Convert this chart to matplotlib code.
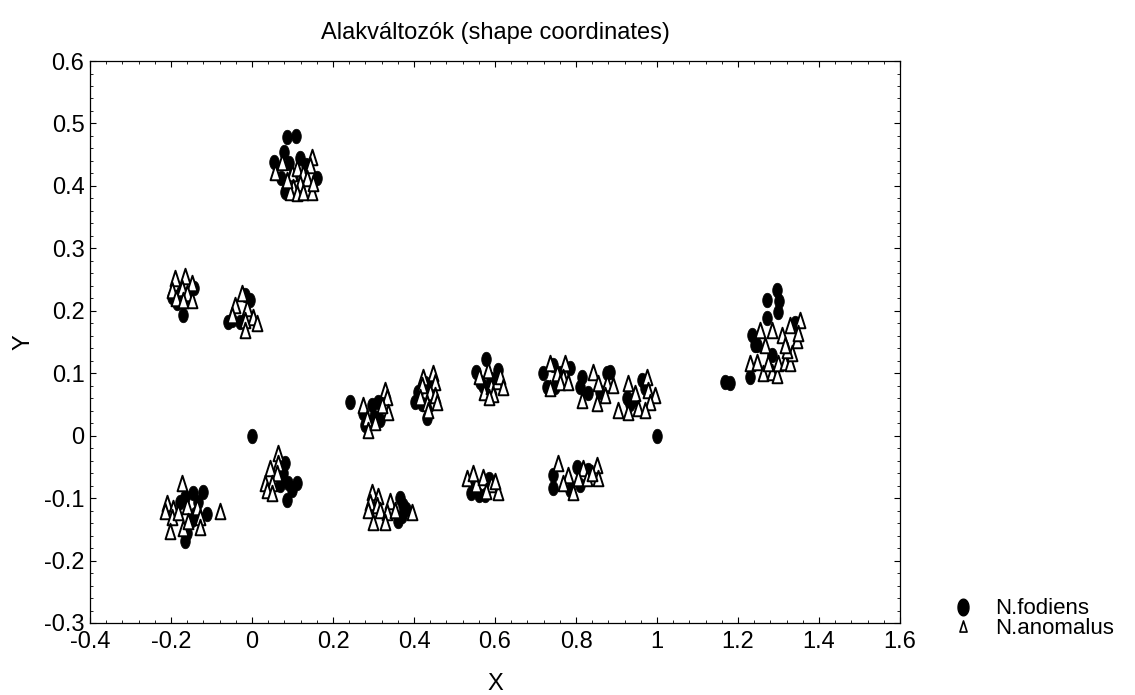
import matplotlib
matplotlib.use("Agg")
import matplotlib.pyplot as plt
from matplotlib.path import Path
from matplotlib.lines import Line2D
from matplotlib.ticker import MultipleLocator, FuncFormatter
import numpy as np

plt.rcParams['font.family'] = ['Liberation Sans', 'DejaVu Sans']
plt.rcParams['axes.unicode_minus'] = False

title = "Alakváltozók (shape coordinates)"
x_label = "X"
y_label = "Y"
series_names = ["N.fodiens", "N.anomalus"]

fodiens_x = [0.054, 0.079, 0.086, 0.109, 0.119, 0.091, 0.072, 0.081, 0.160, 0.101, 0.133,
             -0.198, -0.185, -0.170, -0.143, -0.175, -0.160,
             -0.059, -0.050, -0.017, -0.005, -0.030,
             -0.165, -0.146, -0.121, -0.178, -0.111, -0.148, -0.160, -0.165, -0.133, -0.140,
             0.081, 0.077, 0.069, 0.089, 0.111, 0.086, 0.099,
             0.365, 0.373, 0.370, 0.360, 0.380,
             0.242, 0.274, 0.296, 0.311, 0.316, 0.300, 0.279,
             0.402, 0.410, 0.427, 0.432, 0.420, 0.440,
             0.553, 0.578, 0.563, 0.590, 0.607, 0.570,
             0.546, 0.560, 0.540, 0.585, 0.575,
             0.719, 0.743, 0.785, 0.728, 0.748, 0.760,
             0.744, 0.744, 0.785, 0.802, 0.830, 0.810,
             0.815, 0.810, 0.830, 0.877, 0.884, 0.860,
             0.963, 0.970, 0.926, 0.941, 0.933,
             1.168, 1.180,
             1.272, 1.296, 1.299, 1.272, 1.235, 1.247, 1.242, 1.230, 1.284, 1.341, 1.300]
fodiens_y = [0.438, 0.454, 0.478, 0.480, 0.445, 0.437, 0.413, 0.390, 0.413, 0.417, 0.433,
             0.222, 0.212, 0.193, 0.237, 0.230, 0.220,
             0.182, 0.186, 0.225, 0.217, 0.182,
             -0.099, -0.092, -0.091, -0.107, -0.125, -0.135, -0.156, -0.168, -0.107, -0.125,
             -0.044, -0.060, -0.079, -0.076, -0.075, -0.103, -0.087,
             -0.100, -0.111, -0.128, -0.136, -0.118,
             0.054, 0.036, 0.049, 0.054, 0.025, 0.030, 0.017,
             0.054, 0.070, 0.084, 0.029, 0.050, 0.078,
             0.102, 0.122, 0.086, 0.090, 0.105, 0.080,
             -0.075, -0.095, -0.092, -0.070, -0.095,
             0.100, 0.113, 0.108, 0.078, 0.078, 0.100,
             -0.063, -0.084, -0.087, -0.050, -0.055, -0.079,
             0.094, 0.078, 0.068, 0.100, 0.102, 0.070,
             0.089, 0.076, 0.060, 0.057, 0.050,
             0.086, 0.084,
             0.217, 0.233, 0.198, 0.188, 0.161, 0.145, 0.145, 0.094, 0.129, 0.180, 0.215]

anomalus_x = [0.057, 0.074, 0.099, 0.111, 0.126, 0.148, 0.143, 0.136, 0.119, 0.101, 0.094, 0.111, 0.126, 0.148, 0.151, 0.086,
              -0.190, -0.165, -0.148, -0.198, -0.173, -0.160, -0.188, -0.148, -0.170,
              -0.025, -0.042, -0.012, 0.002, -0.049, -0.017, -0.017, 0.012,
              -0.173, -0.210, -0.195, -0.215, -0.198, -0.183, -0.160, -0.136, -0.128, -0.202, -0.170, -0.128, -0.079, -0.158,
              0.064, 0.064, 0.044, 0.062, 0.032, 0.049, 0.037, 0.049,
              0.296, 0.311, 0.291, 0.308, 0.341, 0.286, 0.316, 0.333, 0.353, 0.299, 0.328, 0.395,
              0.274, 0.328, 0.333, 0.336, 0.321, 0.284, 0.286, 0.304,
              0.422, 0.447, 0.452, 0.420, 0.440, 0.452, 0.415, 0.432, 0.457, 0.435,
              0.560, 0.583, 0.572, 0.590, 0.605, 0.613, 0.596, 0.620, 0.585,
              0.530, 0.553, 0.570, 0.590, 0.607, 0.578, 0.545, 0.600,
              0.736, 0.773, 0.753, 0.768, 0.760, 0.780, 0.736,
              0.756, 0.817, 0.852, 0.780, 0.805, 0.827, 0.854, 0.768, 0.793, 0.840,
              0.842, 0.854, 0.877, 0.891, 0.872, 0.815, 0.852,
              0.928, 0.975, 0.946, 0.978, 0.995, 0.983, 0.904, 0.928, 0.953, 0.970,
              1.230, 1.247, 1.262, 1.284, 1.296, 1.274, 1.299, 1.316, 1.328, 1.333, 1.321, 1.267, 1.346,
              1.254, 1.284, 1.309, 1.328, 1.353, 1.316, 1.348]
anomalus_y = [0.422, 0.438, 0.421, 0.429, 0.421, 0.446, 0.433, 0.413, 0.405, 0.398, 0.390, 0.388, 0.390, 0.390, 0.404, 0.409,
              0.252, 0.255, 0.244, 0.233, 0.236, 0.228, 0.220, 0.217, 0.217,
              0.228, 0.209, 0.204, 0.190, 0.193, 0.185, 0.169, 0.180,
              -0.075, -0.108, -0.116, -0.120, -0.131, -0.123, -0.112, -0.115, -0.131, -0.152, -0.148, -0.147, -0.120, -0.136,
              -0.027, -0.043, -0.052, -0.060, -0.076, -0.076, -0.087, -0.092,
              -0.091, -0.096, -0.107, -0.111, -0.104, -0.119, -0.119, -0.122, -0.119, -0.139, -0.139, -0.123,
              0.049, 0.073, 0.062, 0.038, 0.049, 0.028, 0.009, 0.022,
              0.094, 0.100, 0.086, 0.081, 0.070, 0.065, 0.062, 0.052, 0.054, 0.041,
              0.095, 0.105, 0.070, 0.080, 0.088, 0.095, 0.066, 0.078, 0.062,
              -0.068, -0.078, -0.066, -0.078, -0.090, -0.088, -0.060, -0.072,
              0.116, 0.116, 0.100, 0.094, 0.086, 0.086, 0.076,
              -0.043, -0.052, -0.047, -0.063, -0.068, -0.068, -0.068, -0.076, -0.091, -0.060,
              0.102, 0.084, 0.084, 0.081, 0.065, 0.057, 0.052,
              0.084, 0.094, 0.068, 0.073, 0.065, 0.054, 0.041, 0.038, 0.044, 0.041,
              0.116, 0.118, 0.100, 0.102, 0.097, 0.116, 0.116, 0.118, 0.116, 0.132, 0.137, 0.145, 0.153,
              0.169, 0.169, 0.161, 0.177, 0.185, 0.145, 0.164]

baseline_x = [0.0, 1.0]
baseline_y = [0.0, 0.0]

x_ticks = [-0.4, -0.2, 0, 0.2, 0.4, 0.6, 0.8, 1, 1.2, 1.4, 1.6]
y_ticks = [-0.3, -0.2, -0.1, 0, 0.1, 0.2, 0.3, 0.4, 0.5, 0.6]

# marker shapes
t = np.linspace(0, 2 * np.pi, 40)
ellipse = Path(np.column_stack([0.33 * np.cos(t), 0.5 * np.sin(t)]))
tri = Path([(-0.32, -0.5), (0.32, -0.5), (0.0, 0.5), (-0.32, -0.5)],
           [Path.MOVETO, Path.LINETO, Path.LINETO, Path.CLOSEPOLY])

fig = plt.figure(figsize=(11.35, 6.95), dpi=100)
ax = fig.add_axes([0.0793, 0.1036, 0.7137, 0.8086])

ax.scatter(fodiens_x, fodiens_y, marker=ellipse, s=110, c='black', edgecolors='black', linewidths=0.5, zorder=3)
ax.scatter(anomalus_x, anomalus_y, marker=tri, s=125, c='white', edgecolors='black', linewidths=1.4, zorder=4)
ax.scatter(baseline_x, baseline_y, marker=ellipse, s=110, c='black', edgecolors='black', linewidths=0.5, zorder=5)

ax.set_xlim(-0.4, 1.6)
ax.set_ylim(-0.3, 0.6)
ax.set_xticks(x_ticks)
ax.set_yticks(y_ticks)
ax.xaxis.set_minor_locator(MultipleLocator(0.04))
ax.yaxis.set_minor_locator(MultipleLocator(0.02))
fmt = FuncFormatter(lambda v, p: ('%g' % round(v, 2)).replace('\u2212', '-'))
ax.xaxis.set_major_formatter(fmt)
ax.yaxis.set_major_formatter(fmt)
ax.tick_params(which='both', direction='in', top=True, right=True, labelsize=17, colors='black')
ax.tick_params(which='major', length=4, width=0.8, pad=4)
ax.tick_params(axis='x', which='major', pad=6)
ax.tick_params(which='minor', length=2, width=0.6)
for s in ax.spines.values():
    s.set_linewidth(0.9)
    s.set_color('black')

ax.set_title(title, fontsize=17, pad=16)
ax.set_xlabel(x_label, fontsize=17, labelpad=14)
ax.set_ylabel(y_label, fontsize=17, labelpad=7)

handles = [Line2D([], [], marker=ellipse, linestyle='none', markersize=12, color='black', markerfacecolor='black'),
           Line2D([], [], marker=tri, linestyle='none', markersize=8, color='black', markerfacecolor='white', markeredgewidth=1.2)]
fig.legend(handles, series_names, loc='upper left', bbox_to_anchor=(0.824, 0.155), frameon=False,
           fontsize=16, handletextpad=0.7, labelspacing=-0.05, borderpad=0, handlelength=1.5)

fig.savefig("out.png", dpi=100)
